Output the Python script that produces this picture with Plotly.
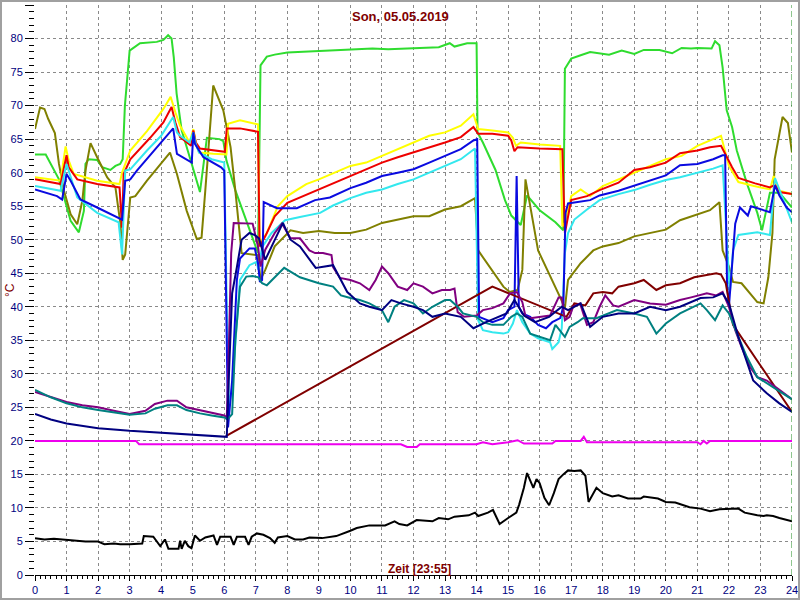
import plotly.graph_objects as go

# ---------------- data (hours, °C) ----------------
green_t = [0, 0.34, 0.76, 0.92, 1.13, 1.39, 1.55, 1.6, 1.7, 1.97, 2.13, 2.39, 2.55, 2.7, 2.78, 2.85, 3.0, 3.33, 3.86,
           4.07, 4.22, 4.33, 4.4, 4.49, 4.6, 4.65, 4.97, 5.23, 5.35, 5.45, 5.85, 5.97, 6.07, 6.35, 7.07, 7.15, 7.35,
           7.6, 8.0, 8.4, 9.0, 9.5, 10.0, 10.7, 11.2, 11.8, 12.3, 12.8, 13.15, 13.3, 13.7, 14.0, 14.03, 14.2, 14.6,
           14.9, 15.1, 15.4, 15.6, 16.0, 16.5, 16.75, 16.8, 17.0, 17.3, 17.6, 18.2, 18.6, 19.0, 19.3, 19.8, 20.2,
           20.5, 20.8, 21.0, 21.45, 21.56, 21.7, 21.8, 21.93, 22.1, 22.25, 22.57, 22.9, 23.05, 23.3, 23.6, 24.0]
green_v = [62.7, 62.7, 59, 56.3, 52.8, 51.1, 54.3, 61.3, 62, 61.9, 60.8, 60.4, 61, 61.3, 62, 70, 78.2, 79.3, 79.5,
           79.8, 80.5, 80, 77.2, 71.8, 67.8, 66.3, 61.3, 57.1, 61.5, 65.2, 65, 64.7, 61.8, 57.4, 48, 76, 77.3,
           77.6, 77.9, 78, 78.1, 78.2, 78.3, 78.5, 78.4, 78.5, 78.6, 78.7, 79.3, 78.8, 79.3, 79.3, 66, 64.5, 60.4,
           55.9, 53.6, 52.2, 56.6, 54.4, 52.6, 51.4, 75.5, 77, 77.5, 78, 77.6, 78.2, 77.7, 78.3, 78.3, 77.8,
           78.6, 78.5, 78.6, 78.5, 79.6, 79, 75.7, 69.3, 66.8, 63.3, 58.4, 54, 51.4, 57, 57, 54.8]

yellow_t = [0, 0.81, 0.97, 1.07, 1.23, 1.97, 2.68, 2.76, 3.02, 3.55, 4.07, 4.3, 4.45, 4.6, 4.9, 5.02, 5.1, 5.2, 5.65,
            6.0, 6.07, 6.12, 6.5, 7.07, 7.12, 7.35, 7.7, 8.0, 8.6, 9.0, 9.5, 10.0, 10.5, 11.0, 11.5, 12.0, 12.5,
            13.0, 13.5, 13.9, 14.05, 14.5, 15.0, 15.15, 15.25, 15.4, 16.0, 16.65, 16.72, 16.8, 17.0, 17.3, 17.6,
            18.0, 18.5, 19.0, 19.5, 20.0, 20.5, 21.0, 21.5, 21.75, 22.0, 22.3, 22.8, 23.3, 23.42, 23.6, 24.0]
yellow_v = [59.3, 58.8, 63.9, 61.8, 59.8, 58.8, 58.3, 60, 63.3, 66.2, 69.5, 71.3, 69, 67, 64.5, 66.5, 64.5, 63,
            62.8, 62.7, 62.7, 67.3, 67.8, 67.2, 49.5, 51, 55, 56.5, 58.3, 59, 60, 61, 61.5, 62.5, 63.5, 64.5, 65.5,
            66, 67, 68.7, 66.5, 66.3, 66, 65.2, 64, 64.5, 64.2, 64, 52, 52.5, 56.5, 57.5, 56.5, 58, 59, 60, 61, 62,
            62.5, 64, 65, 65.5, 61, 58.6, 58, 57.5, 59.5, 57.3, 56.8]

red_t = [0, 0.81, 1.0, 1.07, 1.34, 1.97, 2.68, 2.76, 2.81, 3.02, 3.65, 4.07, 4.33, 4.45, 4.6, 4.95, 5.02, 5.1, 5.23,
         6.02, 6.08, 6.5, 7.07, 7.12, 7.3, 7.6, 8.0, 8.5, 9.0, 9.5, 10.0, 10.5, 11.0, 11.5, 12.0, 12.5, 13.0, 13.5,
         13.9, 14.05, 14.5, 15.0, 15.1, 15.2, 15.3, 16.0, 16.65, 16.72, 16.8, 17.0, 17.5, 17.9, 18.5, 19.0, 19.5,
         20.0, 20.45, 21.0, 21.4, 21.75, 22.1, 22.3, 22.83, 23.3, 23.46, 23.6, 24.0]
red_v = [59, 58.3, 62.6, 60.8, 59, 58.3, 57.8, 51.8, 59.8, 62, 65.2, 67.5, 69.8, 67.5, 65.3, 64, 66.3, 64.5, 63.6,
         63.1, 66.6, 66.6, 66.1, 49, 50.5, 53.5, 55.5, 56.5, 57.5, 58.5, 59.5, 60.5, 61.5, 62.3, 63, 63.7, 64.5,
         65.3, 66.8, 65.8, 65.8, 65.5, 64.8, 63.2, 63.8, 63.6, 63.5, 63.5, 51, 55.9, 56.5, 57.4, 58.5, 60.4, 60.8,
         61.5, 62.9, 63.3, 63.8, 64, 60.8, 59.2, 58.4, 57.8, 58.2, 57.1, 56.8]

cyan_t = [0, 0.81, 1.0, 1.13, 1.34, 1.97, 2.65, 2.76, 2.86, 3.02, 3.55, 4.0, 4.38, 4.5, 4.6, 4.9, 5.02, 5.1, 5.2,
          5.6, 6.0, 6.08, 6.15, 6.25, 6.5, 6.8, 7.03, 7.08, 7.2, 7.5, 7.93, 8.4, 9.04, 9.45, 10.0, 10.5, 11.0,
          11.5, 12.0, 12.5, 13.0, 13.5, 13.95, 14.05, 14.2, 14.5, 14.85, 15.0, 15.15, 15.28, 15.45, 15.7, 15.95,
          16.33, 16.4, 16.6, 16.7, 16.8, 16.9, 17.1, 17.5, 17.9, 18.5, 19.0, 19.5, 20.0, 20.45, 21.0, 21.5, 21.8,
          21.94, 22.03, 22.13, 22.3, 22.9, 23.3, 23.46, 23.57, 23.83, 24.0]
cyan_v = [58, 57.3, 61.3, 59.3, 56.3, 54, 52.6, 47.8, 60.3, 60.5, 63.3, 65.5, 68.3, 66, 65.5, 64.5, 66, 64.2, 63,
          62, 61.5, 40, 25, 28, 44, 46.2, 46.7, 45.5, 48.9, 51, 52.9, 53.4, 54, 55.1, 56.2, 57, 57.5, 58.3, 59, 60,
          61, 62, 63.6, 38, 36.5, 36.2, 36, 36.2, 37.5, 39.5, 37.7, 36, 35.3, 34.7, 33.7, 34.7, 36.8, 48, 51, 53,
          54.5, 55.9, 56.8, 57.4, 58.2, 58.9, 59.3, 60, 60.6, 61.1, 48.4, 42, 48.4, 50.7, 51.1, 50.7, 59.2, 57.8,
          54.8, 52.6]

blue_t = [0, 0.7, 0.86, 1.0, 1.13, 1.44, 1.97, 2.65, 2.76, 2.86, 3.02, 3.23, 3.86, 4.1, 4.38, 4.5, 4.97, 5.02, 5.07,
          5.34, 5.9, 6.0, 6.07, 6.12, 6.25, 6.4, 6.5, 6.8, 6.97, 7.07, 7.13, 7.2, 7.25, 7.67, 8.3, 8.88, 9.35, 10.0,
          10.5, 11.0, 11.5, 12.0, 12.5, 13.0, 13.5, 13.9, 14.02, 14.08, 14.2, 14.5, 14.85, 15.0, 15.2, 15.27, 15.34,
          15.45, 15.7, 15.95, 16.2, 16.4, 16.65, 16.75, 16.82, 16.9, 17.6, 17.9, 18.5, 19.0, 19.5, 20.0, 20.45,
          21.0, 21.5, 21.8, 21.88, 21.94, 22.0, 22.2, 22.35, 22.6, 22.7, 23.3, 23.46, 23.6, 23.83, 24.0]
blue_v = [57.5, 56.5, 56, 59.8, 58.8, 56, 54.8, 53.3, 53, 58.8, 59, 60.3, 63.8, 65, 66.6, 62.8, 61.5, 66, 64.3,
          62.3, 60.8, 60.3, 40, 22, 29, 44, 47.2, 48.7, 48.7, 46.5, 43.7, 44, 55.6, 54.7, 54.7, 55.9, 56.3, 57.7,
          58.5, 59.5, 60, 60.5, 61.5, 62.5, 63.5, 64.8, 65, 38.5, 38.3, 37.7, 38.3, 39.5, 40, 59.5, 40, 39, 38.5,
          37.3, 36.8, 37.7, 38.3, 40, 54, 55.4, 55.9, 56.6, 57.3, 58.1, 58.8, 59.6, 61.1, 61.3, 62, 62.6, 62.6,
          43.5, 40, 52.4, 54.8, 53.6, 55, 54.1, 58.1, 56.6, 54.8, 54.1]

olive_t = [0, 0.16, 0.3, 0.42, 0.63, 0.76, 0.92, 1.13, 1.34, 1.5, 1.6, 1.76, 1.97, 2.29, 2.55, 2.71, 2.78, 2.86,
           3.02, 3.18, 3.55, 4.28, 4.5, 4.81, 5.13, 5.28, 5.4, 5.55, 5.65, 5.97, 6.2, 6.35, 6.55, 7.07, 7.15, 7.3,
           7.6, 8.1, 8.5, 9.0, 9.5, 10.0, 10.5, 11.0, 11.5, 12.0, 12.5, 13.0, 13.5, 13.95, 14.05, 14.33, 14.85,
           15.05, 15.3, 15.45, 15.55, 15.95, 16.3, 16.65, 16.8, 16.9, 17.3, 17.7, 18.0, 18.5, 19.0, 19.5, 20.0,
           20.45, 20.87, 21.4, 21.7, 21.8, 22.0, 22.13, 22.4, 22.9, 23.1, 23.25, 23.38, 23.45, 23.7, 23.87, 24.0]
olive_v = [66.5, 69.7, 69.5, 68, 65.9, 61.3, 57.3, 53.8, 52.3, 55.8, 60.3, 64.4, 62.3, 59.3, 57.8, 52.3, 47, 47.8,
           56.3, 56.5, 58.8, 63, 59.8, 54.3, 50.1, 50.3, 57.4, 66.2, 73, 69.3, 63.8, 57.4, 48, 47.7, 44, 45.5, 49,
           51.4, 51, 51.3, 51, 51, 51.5, 52.5, 53, 53.5, 53.5, 54.5, 55, 56.2, 48.4, 46.5, 43, 42.2, 42.5, 45.5,
           59, 48.4, 45, 41.4, 39.8, 44, 46.5, 48.4, 49, 49.5, 50.5, 51, 51.5, 52.9, 53.6, 54.4, 55.6, 48.4, 46,
           43.7, 43.5, 40.7, 40.5, 44.4, 51, 62, 68.3, 67.4, 63]

purple_t = [0, 0.5, 1, 1.5, 2, 2.5, 3, 3.5, 3.8, 4.2, 4.5, 4.8, 5.23, 5.6, 6.0, 6.08, 6.12, 6.22, 6.3, 6.9, 7.07,
            7.15, 7.3, 7.6, 7.83, 8.1, 8.4, 8.7, 8.88, 9.13, 9.4, 9.45, 9.67, 10.0, 10.3, 10.6, 10.8, 11.0, 11.2,
            11.5, 11.8, 12.0, 12.3, 12.6, 12.9, 13.16, 13.3, 13.4, 13.6, 14.0, 14.2, 14.5, 14.85, 15.06, 15.28,
            15.45, 15.55, 15.7, 16.0, 16.33, 16.6, 16.7, 16.8, 16.95, 17.06, 17.28, 17.5, 17.7, 17.9, 18.08, 18.33,
            18.5, 19.0, 19.5, 20.0, 20.45, 20.8, 21.3, 21.6, 21.8, 22.0, 22.2, 22.4, 22.67, 22.9, 23.2, 23.6, 24.0]
purple_v = [27.3, 26.5, 25.8, 25.3, 25, 24.5, 24, 24.5, 25.5, 26, 26, 25, 24.6, 24.2, 23.8, 23.5, 29, 48, 52.5,
            52.4, 49, 46, 48.5, 51, 52.4, 50.2, 50.2, 48.4, 48, 48, 47.7, 45.9, 44.3, 44, 43.5, 42.5, 44, 46, 45,
            43, 42.5, 43.5, 43, 42, 42.5, 42.5, 42.7, 39.2, 38.5, 38.7, 39.5, 39.8, 40.5, 42, 42.2, 40.7, 38.6,
            38.3, 38.5, 38.7, 41.4, 41.4, 38, 38.5, 40, 40.5, 37.3, 37.7, 40, 41.7, 40.2, 40, 41, 40.5, 40.3, 41,
            41.4, 42, 41.7, 42.2, 40, 36.5, 34, 31, 29.5, 29, 27.6, 26.2]

navy_t = [0, 0.5, 1, 2, 3, 4, 5, 6, 6.08, 6.15, 6.25, 6.4, 6.55, 6.8, 6.97, 7.1, 7.3, 7.86, 8.1, 8.4, 8.9, 9.45,
          9.9, 10.3, 10.6, 11.0, 11.3, 11.6, 12.0, 12.3, 12.6, 13.0, 13.5, 13.9, 14.3, 14.95, 15.2, 15.5, 15.85,
          16.3, 16.7, 16.9, 17.3, 17.6, 18.0, 18.5, 19.0, 19.5, 20.0, 20.45, 21.1, 21.5, 21.8, 22.0, 22.3, 22.77,
          23.2, 23.6, 24.0]
navy_v = [24, 23.2, 22.6, 21.9, 21.5, 21.2, 21, 20.7, 20.6, 30, 42, 45.9, 50, 51, 50.7, 50.2, 47, 52.5, 50, 49,
          45.8, 46.2, 42.2, 40.5, 40, 39.5, 41, 40.5, 40, 39.5, 38.5, 39, 38.5, 36.8, 37.7, 39, 41, 38.7, 37.7,
          38.5, 40, 39.5, 40.5, 37, 38.5, 39, 39, 40, 39.5, 40, 41.3, 41.4, 42, 40.5, 35.5, 29, 27.1, 25.6, 24.3]

teal_t = [0, 0.5, 1, 1.5, 2, 2.5, 3, 3.5, 3.8, 4.2, 4.5, 4.8, 5.23, 5.6, 6.0, 6.1, 6.25, 6.35, 6.5, 6.7, 6.9, 7.08,
          7.2, 7.35, 7.9, 8.4, 9.0, 9.45, 9.7, 10.0, 10.3, 10.6, 11.0, 11.2, 11.4, 11.7, 12.0, 12.3, 12.6, 13.0,
          13.16, 13.4, 13.57, 14.0, 14.2, 14.5, 14.85, 15.1, 15.28, 15.45, 15.7, 16.33, 16.5, 16.8, 16.95, 17.2,
          17.37, 17.8, 18.2, 18.45, 19.0, 19.4, 19.7, 20.0, 20.45, 20.87, 21.1, 21.3, 21.56, 21.8, 22.0, 22.3,
          22.57, 22.9, 23.2, 23.6, 24.0]
teal_v = [27.6, 26.5, 25.6, 25, 24.6, 24.2, 23.9, 24.1, 24.8, 25.3, 25.3, 24.6, 24.1, 23.8, 23.5, 23.2, 24, 35, 43,
          44.5, 44.6, 44.4, 43.5, 43.2, 45.8, 44.4, 43.5, 43, 41.7, 41.3, 41, 40.5, 39.5, 37.7, 40, 41, 40.5, 39,
          40, 41, 41, 40, 39, 38.5, 37.7, 37.3, 37.3, 38.5, 39, 38.5, 36, 35, 37.3, 35.5, 37, 37.7, 38.3, 38.3, 39,
          39.5, 39, 38.5, 36, 37.5, 39, 40, 40.5, 39.5, 38, 40.2, 39, 35.5, 32.5, 29.5, 28.6, 27.3, 26.2]

maroon_t = [6.05, 14.5, 16.85, 17.1, 17.45, 17.7, 18.0, 18.3, 18.5, 19.0, 19.3, 19.7, 20.0, 20.45, 20.9, 21.3,
            21.6, 21.75, 21.9, 22.13, 24.0]
maroon_v = [20.7, 43, 38.5, 40.5, 40.2, 42, 42.2, 42, 43, 43.5, 44, 42.5, 43.2, 43.5, 44.4, 44.7, 45, 44.8, 43.5,
            37.3, 24.3]

magenta_t = [0, 3.2, 3.3, 11.6, 11.8, 12.1, 12.2, 14.0, 14.2, 14.5, 15.0, 15.3, 15.5, 16.4, 16.5, 17.3, 17.4, 17.5,
             21.0, 21.1, 21.2, 21.3, 21.4, 24.0]
magenta_v = [20, 20, 19.5, 19.5, 19.1, 19.1, 19.5, 19.5, 19.8, 19.5, 19.8, 20.1, 19.6, 19.6, 20, 20, 20.6, 19.8,
             19.8, 19.5, 20, 19.6, 20, 20]

black_t = [0, 0.3, 0.6, 1.0, 1.3, 1.6, 2.0, 2.2, 2.5, 2.7, 3.0, 3.4, 3.45, 3.75, 3.97, 4.12, 4.23, 4.55, 4.6, 4.65,
           4.75, 4.86, 4.96, 5.07, 5.23, 5.4, 5.66, 5.77, 5.87, 6.2, 6.3, 6.4, 6.66, 6.77, 6.87, 7.03, 7.24, 7.45,
           7.6, 7.7, 8.0, 8.24, 8.5, 8.7, 9.1, 9.55, 10.0, 10.2, 10.6, 11.1, 11.4, 11.55, 11.8, 12.1, 12.6, 12.8,
           13.1, 13.3, 13.75, 13.95, 14.05, 14.36, 14.52, 14.73, 15.0, 15.26, 15.35, 15.5, 15.6, 15.7, 15.8, 15.9,
           16.0, 16.15, 16.3, 16.45, 16.6, 16.75, 16.9, 17.1, 17.3, 17.45, 17.55, 17.8, 18.0, 18.3, 18.5, 18.8,
           19.2, 19.3, 19.75, 20.0, 20.3, 20.75, 21.1, 21.4, 21.7, 22.3, 22.5, 22.9, 23.1, 23.2, 23.4, 23.6, 24.0]
black_v = [5.5, 5.3, 5.4, 5.2, 5.1, 5.0, 5.0, 4.6, 4.7, 4.6, 4.6, 4.7, 5.8, 5.7, 4.3, 5.3, 3.9, 3.9, 5.1, 3.9, 5.1,
           4.3, 4.0, 5.9, 5.1, 5.6, 5.9, 4.5, 5.7, 5.7, 4.5, 5.7, 5.7, 4.5, 5.7, 6.2, 6.0, 5.5, 4.8, 5.6, 5.8, 5.3,
           5.3, 5.6, 5.5, 5.8, 6.6, 7.0, 7.4, 7.4, 8.0, 7.6, 7.4, 8.2, 8.0, 8.5, 8.3, 8.7, 8.9, 9.3, 8.8, 9.3, 9.7,
           7.6, 8.5, 9.3, 10.5, 13, 15.2, 14.2, 13.0, 14.3, 13.7, 11.5, 10.4, 12.2, 14.3, 15.0, 15.6, 15.5, 15.6,
           14.8, 10.9, 13.0, 12.2, 11.7, 11.9, 11.4, 11.4, 11.7, 11.4, 10.9, 10.8, 10.1, 9.9, 9.5, 9.8, 9.9, 9.3,
           8.9, 8.8, 8.9, 8.8, 8.5, 8.0]

x_ticks = list(range(0, 25))
y_ticks = list(range(0, 86, 5))
title_text = "Son, 05.05.2019"
xlabel_text = "Zeit [23:55]"
ylabel_text = "°C"

series = [
    (green_t, green_v, "#2fdc2f"),
    (olive_t, olive_v, "#808000"),
    (yellow_t, yellow_v, "#ffff00"),
    (red_t, red_v, "#ee0000"),
    (cyan_t, cyan_v, "#33e8ee"),
    (blue_t, blue_v, "#0a0ae0"),
    (maroon_t, maroon_v, "#800000"),
    (purple_t, purple_v, "#800080"),
    (teal_t, teal_v, "#008080"),
    (navy_t, navy_v, "#000080"),
    (magenta_t, magenta_v, "#ee00ee"),
    (black_t, black_v, "#000000"),
]

fig = go.Figure()
for t, v, c in series:
    fig.add_trace(go.Scatter(x=t, y=v, mode="lines", line=dict(color=c, width=2),
                             hoverinfo="skip", showlegend=False))

L, R, T, B = 35, 8, 5, 25
W, H = 800, 600
pw, ph = W - L - R, H - T - B

def px_x(p):
    return (p - L) / pw

def px_y(p):
    return (H - B - p) / ph

tickfont = dict(family="Liberation Sans, Arial, sans-serif", size=11, color="#000080")

fig.update_layout(
    width=W, height=H,
    margin=dict(l=L, r=R, t=T, b=B, pad=0, autoexpand=False),
    paper_bgcolor="white", plot_bgcolor="white",
    xaxis=dict(range=[0, 24], tickmode="array", tickvals=x_ticks, ticktext=[str(v) for v in x_ticks],
               automargin=False,
               showgrid=True, gridcolor="#8a8a8a", griddash="3px,3px", gridwidth=1,
               zeroline=False, showline=True, linecolor="black", linewidth=1,
               ticks="outside", ticklen=5, tickcolor="black", tickwidth=1, tickfont=tickfont,
               minor=dict(dtick=1/6, tick0=0, ticks="outside", ticklen=3, tickcolor="black", showgrid=False)),
    yaxis=dict(range=[0, 85], tickmode="array", tickvals=y_ticks, ticktext=[str(v) for v in y_ticks],
               automargin=False,
               showgrid=True, gridcolor="#8a8a8a", griddash="3px,3px", gridwidth=1,
               zeroline=False, showline=False,
               ticks="outside", ticklen=9, tickcolor="black", tickwidth=1, tickfont=tickfont,
               minor=dict(dtick=1, tick0=0, ticks="outside", ticklen=5, tickcolor="black", showgrid=False)),
    shapes=[
        dict(type="line", xref="x", yref="paper", x0=24, x1=24, y0=0, y1=1,
             line=dict(color="#1e8c1e", width=1, dash="6px,3px")),
        dict(type="rect", xref="paper", yref="paper",
             x0=px_x(1), x1=px_x(799), y0=px_y(599), y1=px_y(1),
             line=dict(color="#a0a0a0", width=2), fillcolor="rgba(0,0,0,0)", layer="above"),
    ],
    annotations=[
        dict(text="<b>" + title_text + "</b>", xref="paper", yref="paper", x=px_x(400), y=px_y(17),
             xanchor="center", yanchor="middle", showarrow=False,
             font=dict(family="Liberation Sans, Arial, sans-serif", size=13, color="#800000")),
        dict(text="<b>" + xlabel_text + "</b>", xref="paper", yref="paper", x=px_x(419), y=px_y(569),
             xanchor="center", yanchor="middle", showarrow=False,
             font=dict(family="Liberation Sans, Arial, sans-serif", size=12, color="#800000")),
        dict(text=ylabel_text, xref="paper", yref="paper", x=px_x(10), y=px_y(290),
             xanchor="center", yanchor="middle", showarrow=False, textangle=-90,
             font=dict(family="Liberation Sans, Arial, sans-serif", size=12, color="#800000")),
    ],
)

fig.write_html("out.html", config={"displayModeBar": False, "staticPlot": True},
               post_script="document.body.style.margin='0';document.body.style.overflow='hidden';")
